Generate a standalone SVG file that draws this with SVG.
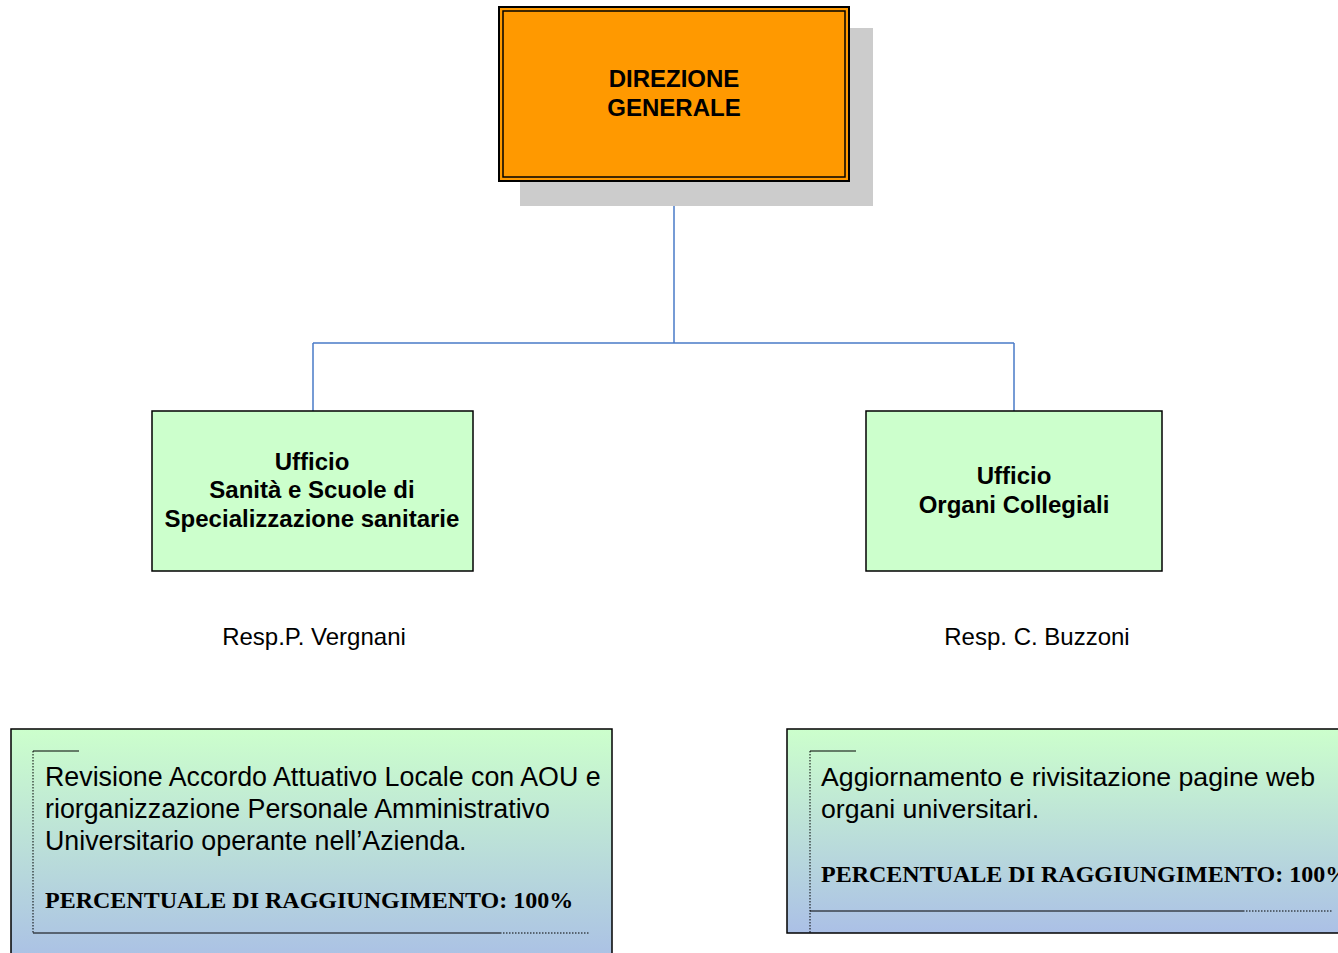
<svg xmlns="http://www.w3.org/2000/svg" width="1338" height="953" viewBox="0 0 1338 953">
<defs>
<linearGradient id="gL" x1="0" y1="0" x2="0" y2="1"><stop offset="0" stop-color="#CCFFCC"/><stop offset="1" stop-color="#A9BEE6"/></linearGradient>
<linearGradient id="gR" x1="0" y1="0" x2="0" y2="1"><stop offset="0" stop-color="#CCFFCC"/><stop offset="1" stop-color="#ABC0E6"/></linearGradient>
<style>
.hb{font-family:"Liberation Sans",Arial,sans-serif;font-weight:bold;fill:#000;text-anchor:middle}
.r{font-family:"Liberation Sans",Arial,sans-serif;fill:#000}
.tb{font-family:"Liberation Serif","Times New Roman",serif;font-weight:bold;fill:#000}
.box{fill:#CCFFCC;stroke:#000;stroke-width:1.5}
.conn{fill:none;stroke:#4A7BC8;stroke-width:1.5}
.dot{stroke:#000;stroke-width:1;stroke-dasharray:1.5,1.5;fill:none}
.sol{stroke:#000;stroke-width:1;fill:none}
</style>
</defs>
<g id="connectors">
<path class="conn" d="M674 182 V343 M313 343 H1014 M313 343 V411 M1014 343 V411"/>
</g>
<g id="direzione">
<rect x="520" y="28" width="353" height="178" fill="#CCCCCC"/>
<rect x="499" y="7" width="350" height="174" fill="#FF9900" stroke="#000" stroke-width="2"/>
<rect x="503" y="11" width="342" height="166" fill="none" stroke="#000" stroke-width="1.5"/>
<text class="hb" font-size="24" x="674" y="87">DIREZIONE</text>
<text class="hb" font-size="24" x="674" y="116">GENERALE</text>
</g>
<g id="ufficio-sanita">
<rect class="box" x="152" y="411" width="321" height="160"/>
<text class="hb" font-size="24" x="312" y="470">Ufficio</text>
<text class="hb" font-size="24" x="312" y="498">Sanità e Scuole di</text>
<text class="hb" font-size="24" x="312" y="527">Specializzazione sanitarie</text>
</g>
<g id="ufficio-organi">
<rect class="box" x="866" y="411" width="296" height="160"/>
<text class="hb" font-size="24" x="1014" y="484">Ufficio</text>
<text class="hb" font-size="24" x="1014" y="513">Organi Collegiali</text>
</g>
<g id="resp-vergnani">
<text class="r" font-size="24" x="314" y="645" text-anchor="middle">Resp.P. Vergnani</text>
</g>
<g id="resp-buzzoni">
<text class="r" font-size="24" x="1037" y="645" text-anchor="middle">Resp. C. Buzzoni</text>
</g>
<g id="obiettivo-sanita">
<rect x="11" y="729" width="601" height="240" fill="url(#gL)" stroke="#000" stroke-width="1.5"/>
<path class="sol" d="M33 751 H79 M33 933 H500"/>
<path class="dot" d="M33 751 V933 M500 933 H589"/>
<text class="r" font-size="26.8" x="45" y="786">Revisione Accordo Attuativo Locale con AOU e</text>
<text class="r" font-size="26.8" x="45" y="818">riorganizzazione Personale Amministrativo</text>
<text class="r" font-size="26.8" x="45" y="850">Universitario operante nell’Azienda.</text>
<text class="tb" font-size="24" x="45" y="908">PERCENTUALE DI RAGGIUNGIMENTO: 100%</text>
</g>
<g id="obiettivo-organi">
<rect x="787" y="729" width="570" height="204" fill="url(#gR)" stroke="#000" stroke-width="1.5"/>
<path class="sol" d="M810 751 H856 M810 911 H1243"/>
<path class="dot" d="M810 751 V933 M1243 911 H1333"/>
<text class="r" font-size="26.7" x="821" y="786">Aggiornamento e rivisitazione pagine web</text>
<text class="r" font-size="26.7" x="821" y="818">organi universitari.</text>
<text class="tb" font-size="24" x="821" y="882">PERCENTUALE DI RAGGIUNGIMENTO: 100%</text>
</g>
</svg>
